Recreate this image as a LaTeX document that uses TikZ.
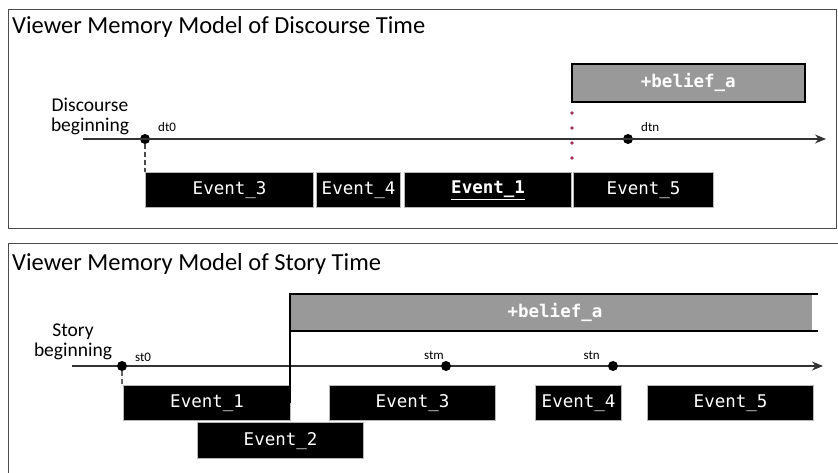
\documentclass[tikz,border=0pt]{standalone}
\usepackage{fontspec}
\setmainfont{Carlito}
\newfontfamily\monof{DejaVu Sans Mono}
\usetikzlibrary{arrows.meta}
\definecolor{beliefgray}{HTML}{999999}
\definecolor{evborder}{HTML}{B8B8B8}
\definecolor{dotred}{HTML}{A0305A}
\tikzset{
  panel/.style={draw=black!70, line width=1pt},
  title/.style={anchor=base west, font=\fontsize{24.5}{28}\selectfont, inner sep=0pt},
  evbox/.style={draw=evborder, line width=1.2pt, fill=black, text=white, inner sep=0pt,
     font=\monof\fontsize{17.5}{20}\selectfont},
  belief/.style={draw=black, line width=1.6pt, fill=beliefgray, text=white, inner sep=0pt,
     font=\monof\bfseries\fontsize{17.5}{20}\selectfont},
  tline/.style={draw=black!80, line width=1.1pt, -{Stealth[length=11pt,width=9pt]}},
  tdot/.style={circle, fill=black, inner sep=0pt, minimum size=10pt},
  small/.style={font=\fontsize{13}{14}\selectfont, inner sep=0pt},
  begl/.style={font=\fontsize{19.5}{20}\selectfont, align=center, inner sep=0pt},
}
\begin{document}
\begin{tikzpicture}[x=1pt,y=-1pt]
\useasboundingbox (0,0) rectangle (838,473);
\fill[white] (0,0) rectangle (838,473);
\begin{scope}
\clip (0,0) rectangle (838,473);
% ---------- top panel ----------
\draw[panel] (8,10) rectangle (836,229);
\node[title] (t1) at (12,34) {Viewer Memory Model of Discourse Time};
\node[begl] (db) at (90,116) {Discourse\\beginning};
\coordinate (tl1s) at (83,139);
\coordinate (tl1e) at (826,139);
\node[tdot] (dt0) at (145,139) {};
\node[tdot] (dtn) at (628,139) {};
\node[small, anchor=base west] (dt0l) at (158,132) {dt0};
\node[small, anchor=base west] (dtnl) at (641,132) {dtn};
\draw[tline] (tl1s) -- (tl1e);
\node[evbox, minimum width=168pt, minimum height=35pt, anchor=north west] (e3) at (145,172) {Event\_3};
\node[evbox, minimum width=84pt, minimum height=35pt, anchor=north west] (e4) at (316,172) {Event\_4};
\node[evbox, minimum width=167pt, minimum height=35pt, anchor=north west] (e1) at (404,172) {\bfseries\underline{Event\_1}};
\node[evbox, minimum width=140pt, minimum height=35pt, anchor=north west] (e5) at (573,172) {Event\_5};
\draw[black!70, line width=1.2pt, dash pattern=on 5pt off 3pt] (dt0.south) -- (dt0.south |- e3.north);
\node[belief, minimum width=233pt, minimum height=38pt, anchor=north west] (b1) at (571,63) {+belief\_a};
\foreach \yy in {113,128,143,158} \fill[dotred] (572,\yy) circle (1.8pt);
% ---------- bottom panel ----------
\draw[panel] (8,244) -- (845,244);
\draw[panel] (8,244) -- (8,480);
\node[title] (t2) at (12,270) {Viewer Memory Model of Story Time};
\node[begl] (sb) at (73,342) {Story\\beginning};
\coordinate (tl2s) at (72,366);
\coordinate (tl2e) at (823,366);
\fill[beliefgray] (290,294) rectangle (812,331);
\draw[black, line width=1.6pt] (818,294) -- (290,294) -- (290,331) -- (818,331);
\node[inner sep=0pt, text=white, font=\monof\bfseries\fontsize{17.5}{20}\selectfont] (b2) at (555,312.5) {+belief\_a};
\draw[tline] (tl2s) -- (tl2e);
\node[tdot] (st0) at (122,366) {};
\node[tdot] (stm) at (446,366) {};
\node[tdot] (stn) at (613,366) {};
\node[small, anchor=base west] (st0l) at (135,361) {st0};
\node[small, anchor=base east] (stml) at (444,359) {stm};
\node[small, anchor=base east] (stnl) at (600,359) {stn};
\node[evbox, minimum width=167pt, minimum height=35pt, anchor=north west] (f1) at (123,385) {Event\_1};
\node[evbox, minimum width=166pt, minimum height=36pt, anchor=north west] (f2) at (197,422) {Event\_2};
\node[evbox, minimum width=166pt, minimum height=35pt, anchor=north west] (f3) at (329,385) {Event\_3};
\node[evbox, minimum width=86pt, minimum height=35pt, anchor=north west] (f4) at (535,385) {Event\_4};
\node[evbox, minimum width=166pt, minimum height=35pt, anchor=north west] (f5) at (647,385) {Event\_5};
\draw[black!60, line width=1.2pt, dash pattern=on 5pt off 3pt] (st0.south) -- (st0.south |- f1.north);
\draw[black, line width=1.2pt] (290,331) -- (290,403);
\end{scope}
\end{tikzpicture}
\end{document}
